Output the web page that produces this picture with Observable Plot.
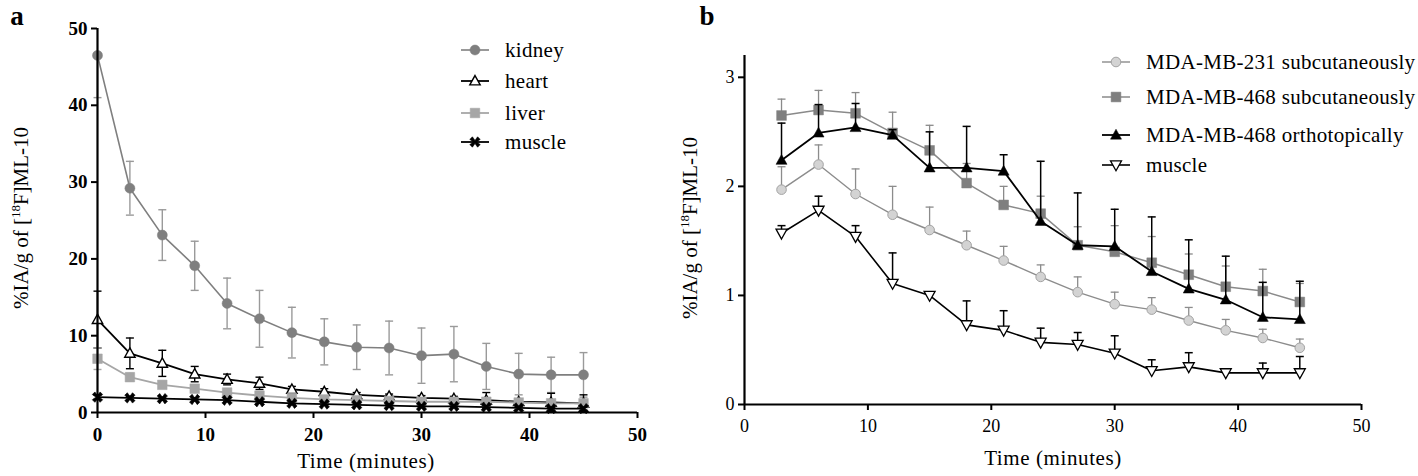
<!DOCTYPE html>
<html><head><meta charset="utf-8">
<script src="https://cdn.jsdelivr.net/npm/d3@7"></script>
<script src="https://cdn.jsdelivr.net/npm/@observablehq/plot@0.6"></script>
<style>
body{margin:0;background:#fff;}
#wrap{position:relative;width:1418px;height:476px;overflow:hidden;font-family:"Liberation Serif","Times New Roman",serif;color:#000;background:#fff}
.pane{position:absolute;top:0}
.ov{position:absolute;white-space:nowrap;line-height:1}
.ctr{transform:translate(-50%,-50%)}
.rot{transform:translate(-50%,-50%) rotate(-90deg)}
.row{position:absolute;display:flex;align-items:center;height:24px;white-space:nowrap}
.row svg{display:block;margin-right:16px}
sup{font-size:0.62em;vertical-align:0.55em;line-height:0}
</style></head>
<body>
<div id="wrap">
  <div id="pa" class="pane" style="left:0"></div>
  <div id="pb" class="pane" style="left:700px"></div>
</div>
<script>
// ---------- Panel a data ----------
const timeA = [0,3,6,9,12,15,18,21,24,27,30,33,36,39,42,45];
const kidneyMean = [46.5,29.2,23.1,19.1,14.2,12.2,10.4,9.2,8.5,8.4,7.4,7.6,6.0,5.0,4.9,4.9];
const kidneySD   = [5.5,3.5,3.3,3.2,3.3,3.7,3.3,3.0,2.9,3.5,3.6,3.6,3.0,2.7,2.3,2.9];
const heartMean  = [12.1,7.7,6.4,5.0,4.3,3.8,3.0,2.7,2.3,2.1,1.9,1.8,1.6,1.4,1.3,1.2];
const heartSD    = [3.7,2.0,1.7,1.0,0.7,0.8,0.4,0.4,0.3,0.3,0.3,0.3,1.0,0.4,1.2,1.1];
const liverMean  = [7.0,4.6,3.6,3.1,2.6,2.2,1.9,1.7,1.6,1.5,1.4,1.4,1.4,1.3,1.2,1.2];
const liverSD    = [1.4,0.5,0.4,0.3,0.3,0.3,0.3,0.2,0.2,0.2,0.2,0.2,0.2,0.2,0.2,0.2];
const muscleAMean= [2.0,1.9,1.8,1.7,1.6,1.4,1.2,1.1,1.0,0.9,0.8,0.8,0.7,0.6,0.5,0.5];
const muscleASD  = [0.3,0.2,0.2,0.2,0.2,0.2,0.2,0.2,0.2,0.2,0.2,0.2,0.2,0.2,0.2,0.2];
const namesA = ["kidney","heart","liver","muscle"];
const ticksA = [0,10,20,30,40,50];

// ---------- Panel b data ----------
const timeB = [3,6,9,12,15,18,21,24,27,30,33,36,39,42,45];
const mda231Mean = [1.97,2.20,1.93,1.74,1.60,1.46,1.32,1.17,1.03,0.92,0.87,0.77,0.68,0.61,0.52];
const mda231Err  = [0.21,0.18,0.23,0.26,0.21,0.13,0.13,0.11,0.14,0.11,0.11,0.12,0.10,0.08,0.08];
const mda468sMean= [2.65,2.70,2.67,2.49,2.33,2.03,1.83,1.75,1.46,1.40,1.30,1.19,1.08,1.04,0.94];
const mda468sErr = [0.15,0.18,0.19,0.19,0.23,0.18,0.17,0.16,0.17,0.24,0.24,0.19,0.19,0.20,0.17];
const mda468oMean= [2.24,2.49,2.54,2.47,2.17,2.17,2.14,1.68,1.46,1.45,1.22,1.06,0.96,0.80,0.78];
const mda468oErr = [0.34,0.26,0.22,0.05,0.33,0.38,0.15,0.55,0.48,0.34,0.50,0.45,0.40,0.32,0.35];
const muscleBMean= [1.57,1.78,1.54,1.11,1.00,0.73,0.68,0.57,0.55,0.47,0.31,0.345,0.29,0.29,0.29];
const muscleBErr = [0.07,0.13,0.10,0.28,0,0.22,0.18,0.13,0.11,0.16,0.10,0.13,0,0.09,0.15];
const namesB = ["MDA-MB-231 subcutaneously","MDA-MB-468 subcutaneously","MDA-MB-468 orthotopically","muscle"];
const ticksBx = [0,10,20,30,40,50];
const ticksBy = [0,1,2,3];

// ---------- symbols ----------
const half = size => Math.sqrt(size/Math.PI);
const triUp = {draw(c,size){const s=half(size);c.moveTo(0,-s*1.05);c.lineTo(s,s*0.75);c.lineTo(-s,s*0.75);c.closePath();}};
const triDown = {draw(c,size){const s=half(size);c.moveTo(0,s*1.05);c.lineTo(s,-s*0.75);c.lineTo(-s,-s*0.75);c.closePath();}};
const xMark = {draw(c,size){const s=half(size),t=s*0.5;
  const p=[[-s,-s+t],[-s+t,-s],[0,-t*0.6],[s-t,-s],[s,-s+t],[t*0.6,0],[s,s-t],[s-t,s],[0,t*0.6],[-s+t,s],[-s,s-t],[-t*0.6,0]];
  c.moveTo(...p[0]);for(let i=1;i<p.length;i++)c.lineTo(...p[i]);c.closePath();}};
const cap = {draw(c,size){const w=half(size);c.moveTo(-w,0);c.lineTo(w,0);}};

function rows(times, means, errs){ return times.map((t,i)=>({t, v:means[i], e:errs[i]})); }

function seriesMarks(data, st, yMax, twoSided){
  const m = [];
  const withErr = data.filter(d=>d.e>0);
  const up = withErr.filter(d=>d.v+d.e<=yMax);
  m.push(Plot.ruleX(up,{x:"t",y1:"v",y2:d=>d.v+d.e,stroke:st.err,strokeWidth:st.ew}));
  m.push(Plot.dot(up,{x:"t",y:d=>d.v+d.e,symbol:cap,r:4,stroke:st.err,strokeWidth:st.ew,fill:"none"}));
  if(twoSided){
    m.push(Plot.ruleX(withErr,{x:"t",y1:d=>Math.max(0,d.v-d.e),y2:"v",stroke:st.err,strokeWidth:st.ew}));
    m.push(Plot.dot(withErr,{x:"t",y:d=>Math.max(0,d.v-d.e),symbol:cap,r:4,stroke:st.err,strokeWidth:st.ew,fill:"none"}));
  }
  m.push(Plot.line(data,{x:"t",y:"v",stroke:st.line,strokeWidth:st.lw}));
  m.push(Plot.dot(data,{x:"t",y:"v",symbol:st.sym,r:st.r,fill:st.fill,stroke:st.stroke,strokeWidth:st.sw}));
  return m;
}

// ---------- styles ----------
const stylesA = [
  {sym:"circle",r:5,fill:"#7f7f7f",stroke:"#7f7f7f",sw:0.5,line:"#7f7f7f",lw:1.6,err:"#9a9a9a",ew:1.4},
  {sym:triUp,r:5.2,fill:"#ffffff",stroke:"#000",sw:1.4,line:"#000",lw:1.8,err:"#000",ew:1.4},
  {sym:"square",r:5.4,fill:"#a6a6a6",stroke:"#a6a6a6",sw:0.5,line:"#a6a6a6",lw:1.8,err:"#a6a6a6",ew:1.4},
  {sym:xMark,r:5.2,fill:"#000",stroke:"#000",sw:0.6,line:"#000",lw:1.8,err:"#000",ew:1.4}
];
const stylesB = [
  {sym:"circle",r:4.8,fill:"#d3d3d3",stroke:"#a3a3a3",sw:1,line:"#8c8c8c",lw:1.4,err:"#8c8c8c",ew:1.3},
  {sym:"square",r:5.5,fill:"#7f7f7f",stroke:"#7f7f7f",sw:0.5,line:"#8a8a8a",lw:1.5,err:"#8a8a8a",ew:1.3},
  {sym:triUp,r:5.5,fill:"#000",stroke:"#000",sw:0.5,line:"#000",lw:1.8,err:"#000",ew:1.5},
  {sym:triDown,r:5.5,fill:"#ffffff",stroke:"#000",sw:1.3,line:"#000",lw:1.6,err:"#000",ew:1.5}
];

// ---------- Panel a ----------
const dataA = [
  rows(timeA,kidneyMean,kidneySD), rows(timeA,heartMean,heartSD),
  rows(timeA,liverMean,liverSD), rows(timeA,muscleAMean,muscleASD)
];
const plotA = Plot.plot({
  width:700, height:476, marginLeft:97, marginRight:63, marginTop:28, marginBottom:64,
  x:{domain:[0,50]}, y:{domain:[0,50]},
  style:{fontFamily:"Liberation Serif, serif", fontSize:"19px", fontWeight:"bold", color:"#000", background:"transparent"},
  marks:[
    ...dataA.flatMap((d,i)=>seriesMarks(d,stylesA[i],50,true)),
    Plot.ruleX([0],{strokeWidth:2.2}),
    Plot.ruleY([0],{strokeWidth:2.2}),
    Plot.axisX({ticks:ticksA,tickFormat:"d",tickSize:6,tickPadding:9,strokeWidth:2,label:null,fontWeight:"bold"}),
    Plot.axisY({ticks:ticksA,tickFormat:"d",tickSize:6,tickPadding:4,strokeWidth:2,label:null,fontWeight:"bold"})
  ]
});
document.getElementById("pa").appendChild(plotA);

// ---------- Panel b ----------
const dataB = [
  rows(timeB,mda231Mean,mda231Err), rows(timeB,mda468sMean,mda468sErr),
  rows(timeB,mda468oMean,mda468oErr), rows(timeB,muscleBMean,muscleBErr)
];
const plotB = Plot.plot({
  width:718, height:476, marginLeft:44, marginRight:57, marginTop:55, marginBottom:72,
  x:{domain:[0,50]}, y:{domain:[0,3.2]},
  style:{fontFamily:"Liberation Serif, serif", fontSize:"18px", color:"#000", background:"transparent"},
  marks:[
    ...dataB.flatMap((d,i)=>seriesMarks(d,stylesB[i],3.2,false)),
    Plot.ruleX([0],{strokeWidth:2.2}),
    Plot.ruleY([0],{strokeWidth:2.2}),
    Plot.axisX({ticks:ticksBx,tickFormat:"d",tickSize:6,tickPadding:9,strokeWidth:2,label:null}),
    Plot.axisY({ticks:ticksBy,tickFormat:"d",tickSize:6,tickPadding:4,strokeWidth:2,label:null})
  ]
});
document.getElementById("pb").appendChild(plotB);

// ---------- overlays (titles, legends) ----------
const wrap = document.getElementById("wrap");
function ov(html, x, y, cls, style){
  const d = document.createElement("div");
  d.className = "ov " + cls; d.innerHTML = html;
  d.style.left = x+"px"; d.style.top = y+"px";
  Object.assign(d.style, style||{});
  wrap.appendChild(d); return d;
}
ov("a", 17, 16, "ctr", {fontSize:"27px", fontWeight:"bold"});
ov("b", 707, 16, "ctr", {fontSize:"27px", fontWeight:"bold"});
const yTitle = "%IA/g of [<sup>18</sup>F]ML-10";
ov(yTitle, 21, 218, "rot", {fontSize:"21px"});
ov(yTitle, 690, 228, "rot", {fontSize:"21px"});
ov("Time (minutes)", 366, 461, "ctr", {fontSize:"21px", letterSpacing:"0.6px"});
ov("Time (minutes)", 1053, 458, "ctr", {fontSize:"21px", letterSpacing:"0.6px"});

function swatch(st){
  const ns="http://www.w3.org/2000/svg";
  const svg=document.createElementNS(ns,"svg");
  svg.setAttribute("width",28); svg.setAttribute("height",24);
  const ln=document.createElementNS(ns,"line");
  ln.setAttribute("x1",0);ln.setAttribute("x2",28);ln.setAttribute("y1",12);ln.setAttribute("y2",12);
  ln.setAttribute("stroke",st.line);ln.setAttribute("stroke-width",st.lw);
  svg.appendChild(ln);
  const symType = typeof st.sym==="string" ? (st.sym==="circle"?d3.symbolCircle:d3.symbolSquare) : st.sym;
  const p=d3.path(); symType.draw(p, st.r*st.r*Math.PI);
  const pe=document.createElementNS(ns,"path");
  pe.setAttribute("d",p.toString()); pe.setAttribute("transform","translate(14,12)");
  pe.setAttribute("fill",st.fill); pe.setAttribute("stroke",st.stroke); pe.setAttribute("stroke-width",st.sw);
  svg.appendChild(pe);
  return svg;
}
function legend(names, styles, x, ys, fs){
  names.forEach((n,i)=>{
    const r=document.createElement("div"); r.className="row";
    r.style.left=x+"px"; r.style.top=(ys[i]-12)+"px"; r.style.fontSize=fs+"px";
    r.appendChild(swatch(styles[i]));
    const s=document.createElement("span"); s.textContent=n; s.style.lineHeight="1"; s.style.letterSpacing="0.3px";
    r.appendChild(s); wrap.appendChild(r);
  });
}
legend(namesA, stylesA, 461, [50,81,113,142], 21);
legend(namesB, stylesB, 1102, [62,97,135,165], 21);
</script>
</body></html>
